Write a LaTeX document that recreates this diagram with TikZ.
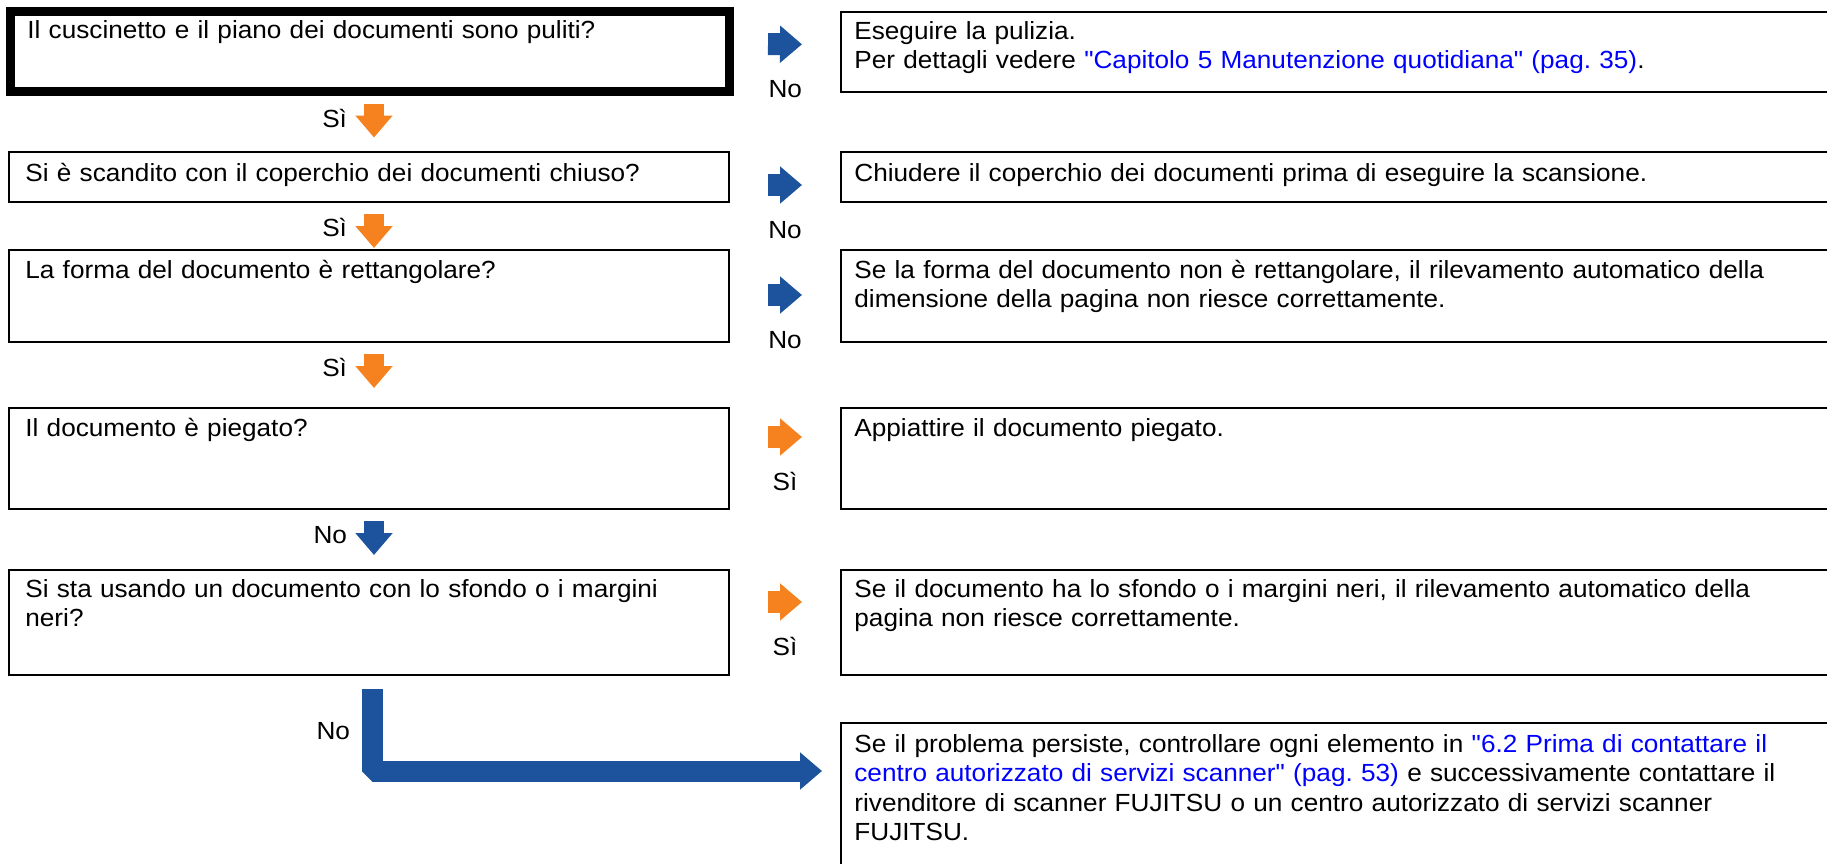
\documentclass[tikz,border=0pt]{standalone}
\usepackage{fontspec}
\setmainfont{Liberation Sans}[Ligatures=TeXOff, FakeStretch=1.055]
\usepackage{xcolor}
\usetikzlibrary{arrows.meta}

\definecolor{flowblue}{RGB}{28,83,156}
\definecolor{floworange}{RGB}{246,130,31}
\definecolor{linkblue}{RGB}{0,0,255}

\begin{document}
\frenchspacing
\begin{tikzpicture}[
    x=0.5pt, y=-0.5pt,
    font=\fontsize{12.4}{14.75}\selectfont,
    qbox/.style={draw, line width=1pt, anchor=north west, outer sep=0pt, inner sep=0pt, minimum width=360pt},
    abox/.style={draw, line width=1pt, anchor=north west, outer sep=0pt, inner sep=0pt, minimum width=499.5pt},
    txt/.style={anchor=base west, inner sep=0pt, align=left, text width=#1},
    side/.style={line width=11pt, -{Triangle[length=11pt, width=18pt]}, shorten <=19.25pt, shorten >=19.5pt},
    down/.style={line width=10pt, -{Triangle[length=11pt, width=18pt]}, shorten <=6pt},
    sidelbl/.style={anchor=base, yshift=-26.5pt, inner sep=0pt, outer sep=0pt, text=black},
    downlbl/.style={anchor=base east, xshift=-13.5pt, yshift=-17pt, inner sep=0pt, outer sep=0pt, text=black}
  ]
    \useasboundingbox (0,0) rectangle (1827,863);

    % question boxes
    \node[qbox, line width=4.5pt, minimum width=359.5pt, minimum height=40pt] (q1) at (10.5,11.5) {};
    \node[qbox, minimum height=25pt] (q2) at (9,152) {};
    \node[qbox, minimum height=46pt] (q3) at (9,250) {};
    \node[qbox, minimum height=50.5pt] (q4) at (9,408) {};
    \node[qbox, minimum height=52.5pt] (q5) at (9,570) {};

    % answer boxes
    \node[abox, minimum height=40pt] (a1) at (841,12) {};
    \node[abox, minimum height=25pt] (a2) at (841,152) {};
    \node[abox, minimum height=46pt] (a3) at (841,250) {};
    \node[abox, minimum height=50.5pt] (a4) at (841,408) {};
    \node[abox, minimum height=52.5pt] (a5) at (841,570) {};
    \node[abox, minimum height=78.5pt] (a6) at (841,723) {};

    % texts
    \node[txt=350pt] (tq1) at (27,38) {Il cuscinetto e il piano dei documenti sono puliti?};
    \node[txt=350pt] (tq2) at (25,181) {Si è scandito con il coperchio dei documenti chiuso?};
    \node[txt=350pt] (tq3) at (25,278) {La forma del documento è rettangolare?};
    \node[txt=350pt] (tq4) at (25,436) {Il documento è piegato?};
    \node[txt=350pt] (tq5) at (25,597) {Si sta usando un documento con lo sfondo o i margini\\neri?};

    \node[txt=490pt] (ta1) at (854,39) {Eseguire la pulizia.\\Per dettagli vedere \textcolor{linkblue}{"Capitolo 5 Manutenzione quotidiana" (pag. 35)}.};
    \node[txt=490pt] (ta2) at (854,181) {Chiudere il coperchio dei documenti prima di eseguire la scansione.};
    \node[txt=490pt] (ta3) at (854,278) {Se la forma del documento non è rettangolare, il rilevamento automatico della\\dimensione della pagina non riesce correttamente.};
    \node[txt=490pt] (ta4) at (854,436) {Appiattire il documento piegato.};
    \node[txt=490pt] (ta5) at (854,597) {Se il documento ha lo sfondo o i margini neri, il rilevamento automatico della\\pagina non riesce correttamente.};
    \node[txt=490pt] (ta6) at (854,752) {Se il problema persiste, controllare ogni elemento in \textcolor{linkblue}{"6.2 Prima di contattare il}\\\textcolor{linkblue}{centro autorizzato di servizi scanner" (pag. 53)} e successivamente contattare il\\rivenditore di scanner FUJITSU o un centro autorizzato di servizi scanner\\FUJITSU.};

    % arrows to the right
    \draw[side, flowblue] ([yshift=-16.25pt]q1.north east) -- node[sidelbl] (n1) {No} ([yshift=-16.25pt]a1.north west);
    \draw[side, flowblue] ([yshift=-16.5pt]q2.north east) -- node[sidelbl] (n2) {No} ([yshift=-16.5pt]a2.north west);
    \draw[side, flowblue] ([yshift=-22.5pt]q3.north east) -- node[sidelbl] (n3) {No} ([yshift=-22.5pt]a3.north west);
    \draw[side, floworange] ([yshift=-14.5pt]q4.north east) -- node[sidelbl] (n4) {Sì} ([yshift=-14.5pt]a4.north west);
    \draw[side, floworange] ([yshift=-16pt]q5.north east) -- node[sidelbl] (n5) {Sì} ([yshift=-16pt]a5.north west);

    % arrows downwards
    \coordinate (dn) at (374,0);
    \draw[down, floworange, shorten >=7.25pt] (q1.south -| dn) -- node[pos=0, downlbl, yshift=-0.75pt] (s1) {Sì} (q2.north -| dn);
    \draw[down, floworange, shorten >=1pt] (q2.south -| dn) -- node[pos=0, downlbl] (s2) {Sì} (q3.north -| dn);
    \draw[down, floworange, shorten >=10pt] (q3.south -| dn) -- node[pos=0, downlbl] (s3) {Sì} (q4.north -| dn);
    \draw[down, flowblue, shorten >=7.5pt] (q4.south -| dn) -- node[pos=0, downlbl] (s4) {No} (q5.north -| dn);

    % last arrow
    \coordinate (elbow) at (372,0);
    \coordinate (l6) at ([yshift=-24pt]a6.north west);
    \draw[down, flowblue, line width=10.5pt, line join=bevel, shorten <=7pt, shorten >=9.5pt]
      (q5.south -| elbow) -- node[pos=0.667, anchor=base east, xshift=-11pt, inner sep=0pt, outer sep=0pt, text=black] (s5) {No} (elbow |- l6) -- (l6);
\end{tikzpicture}
\end{document}
